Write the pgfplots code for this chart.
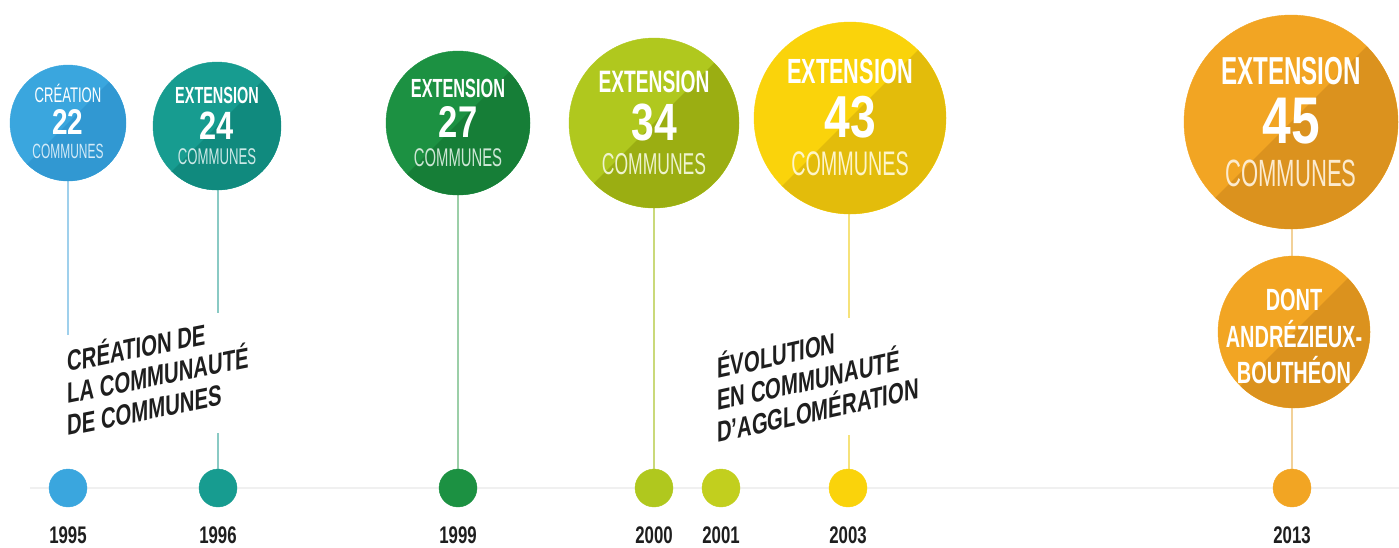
\documentclass[border=0pt]{standalone}
\usepackage{pgfplots}
\pgfplotsset{compat=1.18}
\usepackage{fontspec}
\setmainfont{Liberation Sans}
\newfontfamily\ftop{Liberation Sans}[FakeStretch=0.62]
\newfontfamily\fnum{Liberation Sans}[FakeStretch=0.78]
\newfontfamily\fbot{Liberation Sans}[FakeStretch=0.58]
\newfontfamily\fblk{Liberation Sans}[FakeStretch=0.7]
\newfontfamily\fyear{Liberation Sans}[FakeStretch=0.7]
\newfontfamily\fdont{Liberation Sans}[FakeStretch=0.65]

\definecolor{c1}{HTML}{3AA6DE}\definecolor{c1d}{HTML}{3198D2}\definecolor{c1s}{HTML}{9FD0EC}
\definecolor{c2}{HTML}{179C90}\definecolor{c2d}{HTML}{108A7E}\definecolor{c2s}{HTML}{8ACAC4}
\definecolor{c3}{HTML}{1C9142}\definecolor{c3d}{HTML}{167E37}\definecolor{c3s}{HTML}{9CCFA8}
\definecolor{c4}{HTML}{B0C81E}\definecolor{c4d}{HTML}{9BAE12}\definecolor{c4s}{HTML}{CAD97A}
\definecolor{c5}{HTML}{C2CF1E}
\definecolor{c6}{HTML}{FAD30B}\definecolor{c6d}{HTML}{E3BC0B}\definecolor{c6s}{HTML}{F6E27A}
\definecolor{c7}{HTML}{F2A523}\definecolor{c7d}{HTML}{DB921E}\definecolor{c7s}{HTML}{F2D198}
\definecolor{txt}{HTML}{1E1E1E}

\pgfdeclareplotmark{halfdisc}{%
  \pgfpathmoveto{\pgfpointpolar{45}{\pgfplotmarksize}}%
  \pgfpatharc{45}{-135}{\pgfplotmarksize}%
  \pgfpathclose\pgfusepathqfill}

% x, y, r, top word, number, colour, top weight, scale (=r/107)
\newcommand\circtext[8]{%
  \node[anchor=base,inner sep=0pt,text=white] at (axis cs:#1,{#2-0.355*#3}) {\scalebox{#8}{\ftop#7\fontsize{39}{39}\selectfont #4}};
  \node[anchor=base,inner sep=0pt,text=white] at (axis cs:#1,{#2+0.205*#3}) {\scalebox{#8}{\fnum\bfseries\fontsize{66}{66}\selectfont #5}};
  \node[anchor=base,inner sep=0pt,text=white!78!#6] at (axis cs:#1,{#2+0.604*#3}) {\scalebox{#8}{\fbot\fontsize{38}{38}\selectfont COMMUNES}};
}

\begin{document}
\begin{tikzpicture}
\begin{axis}[hide axis, scale only axis, width=1399pt, height=547pt,
  xmin=0, xmax=1399, ymin=0, ymax=547, y dir=reverse, clip=false,
  clip marker paths=true]

% timeline
\addplot[color=black!6, line width=2pt] coordinates {(30,488) (1399,488)};

% stems
\addplot[color=c1s, line width=2pt] coordinates {(68,175) (68,335)};
\addplot[color=c2s, line width=2pt, unbounded coords=jump] coordinates {(218,185) (218,313) (218,nan) (218,433) (218,475)};
\addplot[color=c3s, line width=2pt] coordinates {(458,190) (458,475)};
\addplot[color=c4s, line width=2pt] coordinates {(654,200) (654,475)};
\addplot[color=c6s, line width=2pt, unbounded coords=jump] coordinates {(849,205) (849,318) (849,nan) (849,435) (849,475)};
\addplot[color=c7s, line width=2pt, unbounded coords=jump] coordinates {(1292,220) (1292,262) (1292,nan) (1292,400) (1292,475)};

% big circles
\addplot[only marks, mark=*, color=c1, mark size=58] coordinates {(68,123)};
\addplot[only marks, mark=halfdisc, color=c1d, mark size=58] coordinates {(68,123)};
\addplot[only marks, mark=*, color=c2, mark size=64] coordinates {(217,126)};
\addplot[only marks, mark=halfdisc, color=c2d, mark size=64] coordinates {(217,126)};
\addplot[only marks, mark=*, color=c3, mark size=72] coordinates {(458,123)};
\addplot[only marks, mark=halfdisc, color=c3d, mark size=72] coordinates {(458,123)};
\addplot[only marks, mark=*, color=c4, mark size=85] coordinates {(654,123)};
\addplot[only marks, mark=halfdisc, color=c4d, mark size=85] coordinates {(654,123)};
\addplot[only marks, mark=*, color=c6, mark size=96] coordinates {(850,118)};
\addplot[only marks, mark=halfdisc, color=c6d, mark size=96] coordinates {(850,118)};
\addplot[only marks, mark=*, color=c7, mark size=107] coordinates {(1291,122)};
\addplot[only marks, mark=halfdisc, color=c7d, mark size=107] coordinates {(1291,122)};
\addplot[only marks, mark=*, color=c7, mark size=76] coordinates {(1294,332)};
\addplot[only marks, mark=halfdisc, color=c7d, mark size=76] coordinates {(1294,332)};

% small dots on the timeline
\addplot[only marks, mark=*, color=c1, mark size=19] coordinates {(68,488)};
\addplot[only marks, mark=*, color=c2, mark size=19] coordinates {(218,488)};
\addplot[only marks, mark=*, color=c3, mark size=19] coordinates {(458,488)};
\addplot[only marks, mark=*, color=c4, mark size=19] coordinates {(654,488)};
\addplot[only marks, mark=*, color=c5, mark size=19] coordinates {(721,488)};
\addplot[only marks, mark=*, color=c6, mark size=19] coordinates {(848,488)};
\addplot[only marks, mark=*, color=c7, mark size=19] coordinates {(1292,488)};

% circle texts
\circtext{68}{123}{58}{CRÉATION}{22}{c1}{}{0.542}
\circtext{217}{126}{64}{EXTENSION}{24}{c2}{\bfseries}{0.598}
\circtext{458}{123}{72}{EXTENSION}{27}{c3}{\bfseries}{0.673}
\circtext{654}{123}{85}{EXTENSION}{34}{c4}{\bfseries}{0.794}
\circtext{850}{118}{96}{EXTENSION}{43}{c6}{\bfseries}{0.897}
\circtext{1291}{122}{107}{EXTENSION}{45}{c7}{\bfseries}{1}

\node[anchor=base,inner sep=0pt,text=white] at (axis cs:1294,310) {\fdont\bfseries\fontsize{30.7}{30.7}\selectfont DONT};
\node[anchor=base,inner sep=0pt,text=white] at (axis cs:1294,347) {\fdont\bfseries\fontsize{30.7}{30.7}\selectfont ANDRÉZIEUX-};
\node[anchor=base,inner sep=0pt,text=white] at (axis cs:1294,383) {\fdont\bfseries\fontsize{30.7}{30.7}\selectfont BOUTHÉON};

% slanted annotations
\node[anchor=base west,inner sep=0pt,yslant=0.2,text=txt] at (axis cs:67,372) {\fblk\bfseries\fontsize{29}{29}\selectfont CRÉATION DE};
\node[anchor=base west,inner sep=0pt,yslant=0.2,text=txt] at (axis cs:67,404) {\fblk\bfseries\fontsize{29}{29}\selectfont LA COMMUNAUTÉ};
\node[anchor=base west,inner sep=0pt,yslant=0.2,text=txt] at (axis cs:67,436) {\fblk\bfseries\fontsize{29}{29}\selectfont DE COMMUNES};
\node[anchor=base west,inner sep=0pt,yslant=0.22,text=txt] at (axis cs:717,379) {\fblk\bfseries\fontsize{29}{29}\selectfont ÉVOLUTION};
\node[anchor=base west,inner sep=0pt,yslant=0.22,text=txt] at (axis cs:717,411) {\fblk\bfseries\fontsize{29}{29}\selectfont EN COMMUNAUTÉ};
\node[anchor=base west,inner sep=0pt,yslant=0.22,text=txt] at (axis cs:717,443) {\fblk\bfseries\fontsize{29}{29}\selectfont D’AGGLOMÉRATION};

% years
\node[anchor=base,inner sep=0pt,text=txt] at (axis cs:68,543) {\fyear\bfseries\fontsize{24}{24}\selectfont 1995};
\node[anchor=base,inner sep=0pt,text=txt] at (axis cs:218,543) {\fyear\bfseries\fontsize{24}{24}\selectfont 1996};
\node[anchor=base,inner sep=0pt,text=txt] at (axis cs:458,543) {\fyear\bfseries\fontsize{24}{24}\selectfont 1999};
\node[anchor=base,inner sep=0pt,text=txt] at (axis cs:654,543) {\fyear\bfseries\fontsize{24}{24}\selectfont 2000};
\node[anchor=base,inner sep=0pt,text=txt] at (axis cs:721,543) {\fyear\bfseries\fontsize{24}{24}\selectfont 2001};
\node[anchor=base,inner sep=0pt,text=txt] at (axis cs:848,543) {\fyear\bfseries\fontsize{24}{24}\selectfont 2003};
\node[anchor=base,inner sep=0pt,text=txt] at (axis cs:1292,543) {\fyear\bfseries\fontsize{24}{24}\selectfont 2013};
\end{axis}
\pgfresetboundingbox
\useasboundingbox (current axis.south west) rectangle (current axis.north east);
\end{tikzpicture}
\end{document}
